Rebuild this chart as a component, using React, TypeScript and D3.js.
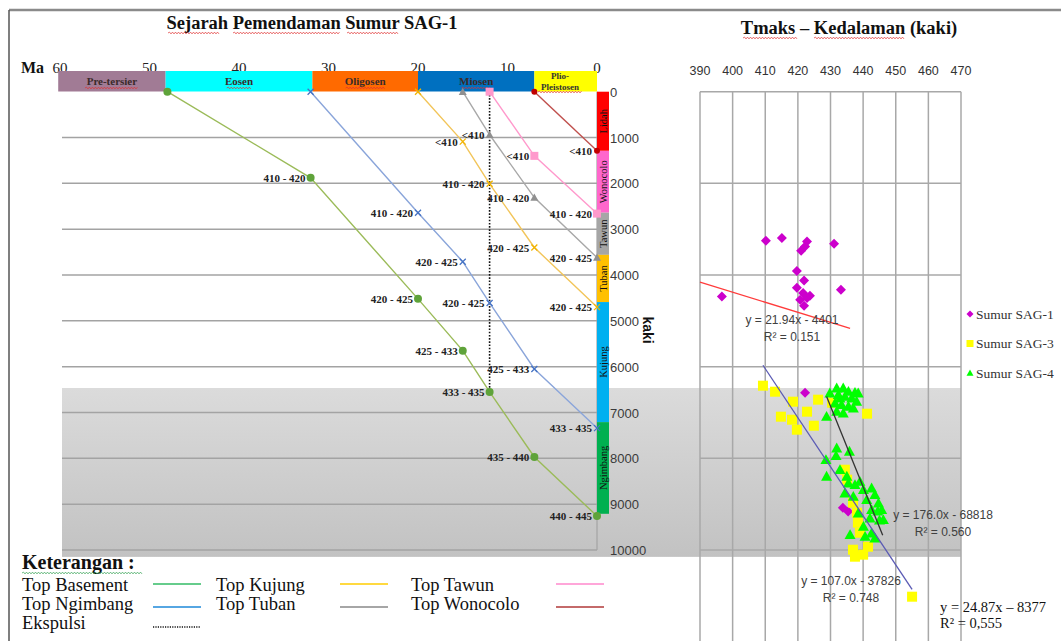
import React from "react";
import * as d3 from "d3";

const W = 1061;
const H = 641;
const SERIF = "'Liberation Serif', 'Times New Roman', serif";
const SANS = "'Liberation Sans', Arial, sans-serif";

// ---------- Burial history panel ----------
const epochNames = ["Pre-tersier", "Eosen", "Oligosen", "Miosen", "Plio-Pleistosen"];
const epochFrom = [60.2, 48.2, 31.8, 20, 7];
const epochTo = [48.2, 31.8, 20, 7, 0];
const epochColors = ["#a17b95", "#00ffff", "#ff6a00", "#0070c0", "#ffff00"];

const maTicks = [60, 50, 40, 30, 20, 10, 0];
const depthTicks = [0, 1000, 2000, 3000, 4000, 5000, 6000, 7000, 8000, 9000, 10000];

const formationNames = ["Lidah", "Wonocolo", "Tawun", "Tuban", "Kujung", "Ngimbang"];
const formationTop = [0, 1290, 2640, 3560, 4590, 7210];
const formationBase = [1290, 2640, 3560, 4590, 7210, 9210];
const formationColors = ["#ff0000", "#ff66cc", "#a6a6a6", "#ffc000", "#00b0f0", "#00b050"];

const basementAge = [48, 32, 20, 15, 12, 7, 0];
const basementDepth = [0, 1880, 4520, 5650, 6550, 7970, 9260];
const basementTmax = ["", "410 - 420", "420 - 425", "425 - 433", "433 - 435", "435 - 440", "440 - 445"];

const ngimbangAge = [32, 20, 15, 12, 7, 0];
const ngimbangDepth = [0, 2640, 3710, 4610, 6050, 7340];
const ngimbangTmax = ["", "410 - 420", "420 - 425", "420 - 425", "425 - 433", "433 - 435"];

const kujungAge = [20, 15, 12, 7, 0];
const kujungDepth = [0, 1090, 2010, 3400, 4700];
const kujungTmax = ["", "<410", "410 - 420", "420 - 425", "420 - 425"];

const tubanAge = [15, 12, 7, 0];
const tubanDepth = [0, 940, 2310, 3620];
const tubanTmax = ["", "<410", "410 - 420", "420 - 425"];

const tawunAge = [12, 7, 0];
const tawunDepth = [0, 1400, 2660];
const tawunTmax = ["", "<410", "410 - 420"];

const wonocoloAge = [7, 0];
const wonocoloDepth = [0, 1290];
const wonocoloTmax = ["", "<410"];

const expulsionAge = 12;
const expulsionDepth = [0, 6550];

// oil-window shading (depth, ft)
const windowDepth = [6465, 10150];

// ---------- Tmax vs depth panel ----------
const tTicks = [390, 400, 410, 420, 430, 440, 450, 460, 470];
const depthGrid = [0, 2000, 4000, 6000, 8000, 10000, 12000];

const sag1Tmax = [410.2, 415.1, 422.8, 422.2, 421.0, 431.1, 419.7, 421.9, 419.7, 421.6, 422.8, 420.7, 421.9, 423.7, 433.2, 396.7, 422.2, 433.8, 435.4];
const sag1Depth = [3250, 3190, 3270, 3380, 3470, 3320, 3910, 4120, 4280, 4390, 4500, 4540, 4670, 4450, 4320, 4470, 6570, 9080, 9160];

const sag3Tmax = [409.3, 413.0, 418.5, 426.2, 430.5, 441.2, 414.8, 422.8, 418.2, 419.7, 424.9, 434.4, 435.1, 436.9, 438.1, 438.4, 439.0, 436.9, 440.0, 441.5, 437.5, 455.0];
const sag3Depth = [6415, 6546, 6764, 6720, 6786, 7026, 7091, 6982, 7157, 7375, 7288, 8248, 8466, 8968, 9186, 9404, 9623, 9994, 10102, 9928, 10146, 11019];

const sag4Tmax = [431.9, 433.9, 435.5, 437.5, 429.8, 432.4, 434.4, 436.5, 438.0, 431.4, 433.4, 435.5, 437.0, 428.8, 431.9, 433.9, 438.5, 432.9,
  431.9, 435.8, 428.6, 431.7, 428.8, 432.9, 435.0, 435.5, 437.5, 439.0, 440.1, 442.6, 443.6, 434.4, 441.1, 444.7, 445.7, 446.2, 442.6, 442.1,
  440.1, 436.0, 440.6, 442.6, 443.6, 438.5, 437.0, 444.5, 445.0];
const sag4Depth = [6465, 6465, 6539, 6561, 6575, 6611, 6648, 6684, 6757, 6793, 6830, 6866, 6903, 7085, 6975, 7012, 6575, 6684,
  7776, 7848, 8030, 7942, 8393, 8248, 8393, 8539, 8575, 8503, 8684, 8648, 8793, 8757, 8902, 8975, 9121, 9339, 9121, 9303,
  9485, 9666, 9703, 9630, 9739, 9194, 8830, 9150, 9350];

const wellNames = ["Sumur SAG-1", "Sumur SAG-3", "Sumur SAG-4"];
const wellColors = ["#cc00cc", "#ffff00", "#00ff00"];

const trendSlope = [21.94, 107.0, 176.0];
const trendIntercept = [-4401, -37826, -68818];
const trendFrom = [390, 409.3, 428.8];
const trendTo = [436, 455, 446];
const trendColors = ["#ff3b3b", "#5a5ab4", "#333333"];
const trendEq = ["y = 21.94x - 4401", "y = 107.0x - 37826", "y = 176.0x - 68818"];
const trendR2 = ["R\u00b2 = 0.151", "R\u00b2 = 0.748", "R\u00b2 = 0.560"];

// ---------- scales ----------
const xMa = d3.scaleLinear().domain([60, 0]).range([60, 597]);
const yDepth = d3.scaleLinear().domain([0, 10000]).range([91.7, 550]);
const xT = d3.scaleLinear().domain([390, 470]).range([700, 961]);

type Shape = "circle" | "square" | "diamond" | "triangle" | "x";

function Marker({ shape, x, y, s, color }: { shape: Shape; x: number; y: number; s: number; color: string }) {
  const h = s / 2;
  if (shape === "circle") return <circle cx={x} cy={y} r={h} fill={color} />;
  if (shape === "square") return <rect x={x - h} y={y - h} width={s} height={s} fill={color} />;
  if (shape === "diamond")
    return <path d={`M${x},${y - h}L${x + h},${y}L${x},${y + h}L${x - h},${y}Z`} fill={color} />;
  if (shape === "triangle")
    return <path d={`M${x},${y - h}L${x + h},${y + h * 0.8}L${x - h},${y + h * 0.8}Z`} fill={color} />;
  return (
    <path d={`M${x - h},${y - h}L${x + h},${y + h}M${x - h},${y + h}L${x + h},${y - h}`} stroke={color} strokeWidth={1.3} fill="none" />
  );
}

function Wavy({ x1, x2, y, color }: { x1: number; x2: number; y: number; color: string }) {
  let d = `M${x1},${y}`;
  let up = true;
  for (let x = x1 + 1.5; x <= x2; x += 1.5) {
    d += `L${x},${y + (up ? -0.9 : 0.9)}`;
    up = !up;
  }
  return <path d={d} stroke={color} strokeWidth={0.7} fill="none" />;
}

const curves = [
  { age: basementAge, depth: basementDepth, tmax: basementTmax, line: "#9bbb59", mark: "#5fa33a", shape: "circle" as Shape, size: 8 },
  { age: ngimbangAge, depth: ngimbangDepth, tmax: ngimbangTmax, line: "#8aa5da", mark: "#4472c4", shape: "x" as Shape, size: 6 },
  { age: kujungAge, depth: kujungDepth, tmax: kujungTmax, line: "#f2c55a", mark: "#f2b400", shape: "x" as Shape, size: 6 },
  { age: tubanAge, depth: tubanDepth, tmax: tubanTmax, line: "#a8a8a8", mark: "#909090", shape: "triangle" as Shape, size: 8 },
  { age: tawunAge, depth: tawunDepth, tmax: tawunTmax, line: "#ff99cc", mark: "#ff99cc", shape: "square" as Shape, size: 8 },
  { age: wonocoloAge, depth: wonocoloDepth, tmax: wonocoloTmax, line: "#c0504d", mark: "#c00000", shape: "circle" as Shape, size: 6 },
];

const legendItems = [
  { name: "Top Basement", color: "#33bb66", col: 0, row: 0 },
  { name: "Top Ngimbang", color: "#1e88d8", col: 0, row: 1 },
  { name: "Top Kujung", color: "#ffcc00", col: 1, row: 0 },
  { name: "Top Tuban", color: "#888888", col: 1, row: 1 },
  { name: "Top Tawun", color: "#ff88cc", col: 2, row: 0 },
  { name: "Top Wonocolo", color: "#b03838", col: 2, row: 1 },
];

export default function App() {
  const lineGen = (ages: number[], depths: number[]) =>
    d3.line<number>().x((_, i) => xMa(ages[i])).y((_, i) => yDepth(depths[i]))(ages) || "";

  const colX = 597;
  const colW = 12;
  const textCol = [22, 216, 411];
  const lineCol = [153, 340, 556];
  const rowText = [591, 610, 629];
  const rowLine = [584, 607, 627];

  const wells = [
    { t: sag1Tmax, d: sag1Depth, shape: "diamond" as Shape, s: 10 },
    { t: sag3Tmax, d: sag3Depth, shape: "square" as Shape, s: 10 },
    { t: sag4Tmax, d: sag4Depth, shape: "triangle" as Shape, s: 11 },
  ];
  const eqPos = [
    [792, 324],
    [851, 585],
    [943, 519],
  ];

  return (
    <div style={{ position: "fixed", left: 0, top: 0 }}>
      <svg width={W} height={H} style={{ display: "block", background: "#ffffff" }}>
        <defs>
          <linearGradient id="band" x1="0" y1="0" x2="0" y2="1">
            <stop offset="0" stopColor="#dbdbdb" />
            <stop offset="1" stopColor="#c2c2c2" />
          </linearGradient>
        </defs>

        {/* frame */}
        <line x1={9} y1={10} x2={W} y2={10} stroke="#8a8a8a" strokeWidth={2.5} />
        <line x1={9} y1={10} x2={9} y2={H} stroke="#555" strokeWidth={1.5} />

        {/* shaded window across both panels */}
        <rect x={62} y={yDepth(windowDepth[0])} width={xT(470) - 62} height={yDepth(windowDepth[1]) - yDepth(windowDepth[0])} fill="url(#band)" />

        {/* ===== Left: burial history ===== */}
        <text x={312} y={29} textAnchor="middle" fontFamily={SERIF} fontWeight="bold" fontSize={18.5} fill="#111">
          Sejarah Pemendaman Sumur SAG-1
        </text>
        <Wavy x1={168} x2={219} y={33} color="#e03030" />
        <Wavy x1={233} x2={340} y={33} color="#e03030" />
        <Wavy x1={347} x2={399} y={33} color="#e03030" />

        <text x={21} y={73} fontFamily={SERIF} fontWeight="bold" fontSize={16} fill="#111">Ma</text>
        {maTicks.map((t) => (
          <text key={t} x={xMa(t)} y={73} textAnchor="middle" fontFamily={SERIF} fontSize={15} fill="#222">
            {t}
          </text>
        ))}

        {epochNames.map((n, i) => {
          const x0 = xMa(epochFrom[i]);
          const x1 = xMa(epochTo[i]);
          return <rect key={n} x={x0} y={71} width={x1 - x0} height={20.5} fill={epochColors[i]} />;
        })}
        {epochNames.slice(0, 4).map((n, i) => {
          const cx = (xMa(epochFrom[i]) + xMa(epochTo[i])) / 2;
          return (
            <g key={n}>
              <text x={cx} y={85} textAnchor="middle" fontFamily={SERIF} fontWeight="bold" fontSize={11} fill="#3a2a2a">
                {n}
              </text>
              <Wavy x1={cx - n.length * 2.45} x2={cx + n.length * 2.45} y={88} color="#e03030" />
            </g>
          );
        })}
        <text x={560} y={79} textAnchor="middle" fontFamily={SERIF} fontWeight="bold" fontSize={9} fill="#333">Plio-</text>
        <text x={560} y={90} textAnchor="middle" fontFamily={SERIF} fontWeight="bold" fontSize={9} fill="#333">Pleistosen</text>
        <Wavy x1={538} x2={582} y={92} color="#e03030" />

        {/* depth grid */}
        {depthTicks.slice(1).map((d) => (
          <line key={d} x1={62} x2={colX} y1={yDepth(d)} y2={yDepth(d)} stroke="#a3a3a3" strokeWidth={1.5} />
        ))}
        <line x1={colX} x2={colX} y1={yDepth(0)} y2={yDepth(10000)} stroke="#a3a3a3" strokeWidth={1.2} />

        {/* formation column */}
        {formationNames.map((n, i) => {
          const y0 = yDepth(formationTop[i]);
          const y1 = yDepth(formationBase[i]);
          const cy = (y0 + y1) / 2;
          return (
            <g key={n}>
              <rect x={colX} y={y0} width={colW} height={y1 - y0} fill={formationColors[i]} />
              <text
                transform={`translate(${colX + colW / 2 + 3.5},${cy}) rotate(-90)`}
                textAnchor="middle"
                fontFamily={SERIF}
                fontSize={10.5}
                fill="#111"
              >
                {n}
              </text>
            </g>
          );
        })}
        {depthTicks.map((d) => (
          <text key={d} x={610} y={yDepth(d) + 5} fontFamily={SANS} fontSize={13} fill="#3a3a3a">
            {d}
          </text>
        ))}
        <text transform={`translate(643,330) rotate(90)`} textAnchor="middle" fontFamily={SANS} fontWeight="bold" fontSize={14} fill="#111">
          kaki
        </text>

        {/* expulsion */}
        <line
          x1={xMa(expulsionAge)}
          x2={xMa(expulsionAge)}
          y1={yDepth(expulsionDepth[0])}
          y2={yDepth(expulsionDepth[1])}
          stroke="#111"
          strokeWidth={1.6}
          strokeDasharray="1.6 1.6"
        />

        {/* burial curves */}
        {curves.map((c, ci) => (
          <g key={ci}>
            <path d={lineGen(c.age, c.depth)} stroke={c.line} strokeWidth={1.4} fill="none" />
            {c.age.map((a, i) => {
              const x = xMa(a);
              const y = yDepth(c.depth[i]);
              return (
                <g key={i}>
                  <Marker shape={c.shape} x={x} y={y} s={c.size} color={c.mark} />
                  {c.tmax[i] && (
                    <text x={x - 5} y={y + 4} textAnchor="end" fontFamily={SERIF} fontWeight="bold" fontSize={11} fill="#222">
                      {c.tmax[i]}
                    </text>
                  )}
                </g>
              );
            })}
          </g>
        ))}

        {/* legend */}
        <text x={22} y={569} fontFamily={SERIF} fontWeight="bold" fontSize={20} fill="#111">Keterangan :</text>
        <Wavy x1={22} x2={143} y={573} color="#30a050" />
        {legendItems.map((it) => (
          <g key={it.name}>
            <text x={textCol[it.col]} y={rowText[it.row]} fontFamily={SERIF} fontSize={18.5} fill="#111">
              {it.name}
            </text>
            <line x1={lineCol[it.col]} x2={lineCol[it.col] + 48} y1={rowLine[it.row]} y2={rowLine[it.row]} stroke={it.color} strokeWidth={1.5} />
          </g>
        ))}
        <text x={textCol[0]} y={rowText[2]} fontFamily={SERIF} fontSize={18.5} fill="#111">Ekspulsi</text>
        <line x1={lineCol[0]} x2={lineCol[0] + 48} y1={rowLine[2]} y2={rowLine[2]} stroke="#111" strokeWidth={1.4} strokeDasharray="1.2 1.2" />

        {/* ===== Right: Tmax vs depth ===== */}
        <text x={849} y={34} textAnchor="middle" fontFamily={SERIF} fontWeight="bold" fontSize={18.5} fill="#111">
          Tmaks – Kedalaman (kaki)
        </text>
        <Wavy x1={743} x2={797} y={38} color="#e03030" />
        <Wavy x1={814} x2={904} y={38} color="#e03030" />

        {tTicks.map((t) => (
          <text key={t} x={xT(t)} y={75} textAnchor="middle" fontFamily={SANS} fontSize={12.5} fill="#333">
            {t}
          </text>
        ))}
        {tTicks.map((t) => (
          <line key={t} x1={xT(t)} x2={xT(t)} y1={yDepth(0)} y2={yDepth(12000)} stroke="#a8a8a8" strokeWidth={1.5} />
        ))}
        {depthGrid.map((d) => (
          <line key={d} x1={xT(390)} x2={xT(470)} y1={yDepth(d)} y2={yDepth(d)} stroke="#a8a8a8" strokeWidth={1.5} />
        ))}

        {wells.map((w, wi) => (
          <g key={wi}>
            {w.t.map((t, i) => (
              <Marker key={i} shape={w.shape} x={xT(t)} y={yDepth(w.d[i])} s={w.s} color={wellColors[wi]} />
            ))}
          </g>
        ))}

        {trendSlope.map((m, i) => (
          <line
            key={i}
            x1={xT(trendFrom[i])}
            x2={xT(trendTo[i])}
            y1={yDepth(m * trendFrom[i] + trendIntercept[i])}
            y2={yDepth(m * trendTo[i] + trendIntercept[i])}
            stroke={trendColors[i]}
            strokeWidth={1.3}
          />
        ))}
        {trendEq.map((e, i) => (
          <g key={i} fontFamily={SANS} fontSize={12} fill="#404040" textAnchor="middle">
            <text x={eqPos[i][0]} y={eqPos[i][1]}>{e}</text>
            <text x={eqPos[i][0]} y={eqPos[i][1] + 17}>{trendR2[i]}</text>
          </g>
        ))}

        {wellNames.map((n, i) => {
          const y = 314 + i * 29.5;
          const shape: Shape = i === 0 ? "diamond" : i === 1 ? "square" : "triangle";
          return (
            <g key={n}>
              <Marker shape={shape} x={970} y={y} s={7} color={wellColors[i]} />
              <text x={976} y={y + 4.5} fontFamily={SERIF} fontSize={13.5} fill="#333">
                {n}
              </text>
            </g>
          );
        })}

        <text x={940} y={612} fontFamily={SERIF} fontSize={14.5} fill="#111">y = 24.87x – 8377</text>
        <text x={940} y={628} fontFamily={SERIF} fontSize={14.5} fill="#111">R² = 0,555</text>
      </svg>
    </div>
  );
}
